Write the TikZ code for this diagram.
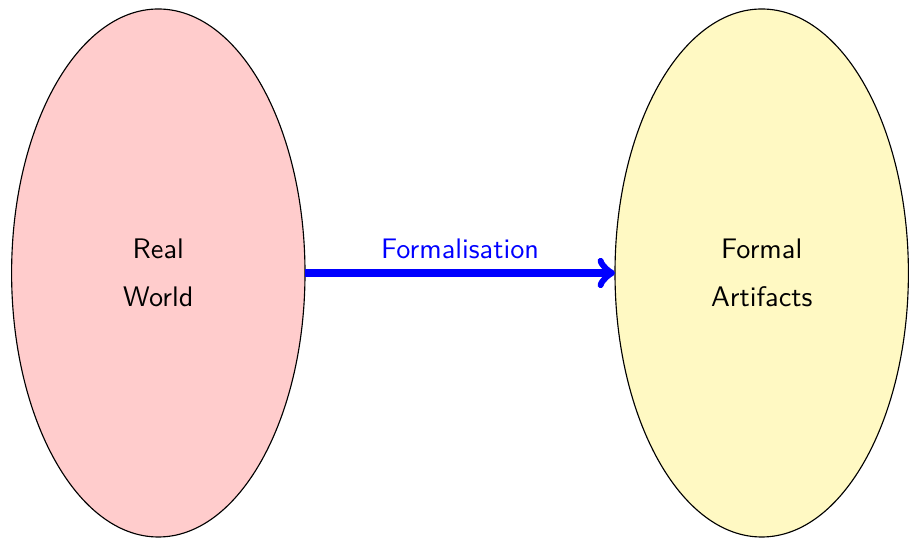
\documentclass[tikz,border=0pt]{standalone}
\usetikzlibrary{shapes.geometric}
\definecolor{softyellow}{RGB}{255,249,195}
\begin{document}
\begin{tikzpicture}[x=0.01243cm,y=-0.01243cm,
  world/.style={ellipse,draw=black,line width=0.4pt,inner sep=0pt,outer sep=0pt,
    minimum width=293.4*0.01243cm,minimum height=528*0.01243cm,
    font=\sffamily,align=center},
  formarrow/.style={->,draw=blue,line width=2.65pt},
  formlabel/.style={font=\sffamily,text=blue,anchor=base,inner sep=0pt}
]
\useasboundingbox (0,0) rectangle (909,538);
\node[world,fill=red!20] (L) at (158.3,273) {Real\\[5pt]World};
\node[world,fill=softyellow] (R) at (761.7,273) {Formal\\[5pt]Artifacts};
\draw[formarrow] (L.east) -- (R.west) node[midway,formlabel,yshift=5pt] (lab) {Formalisation};
\end{tikzpicture}
\end{document}
